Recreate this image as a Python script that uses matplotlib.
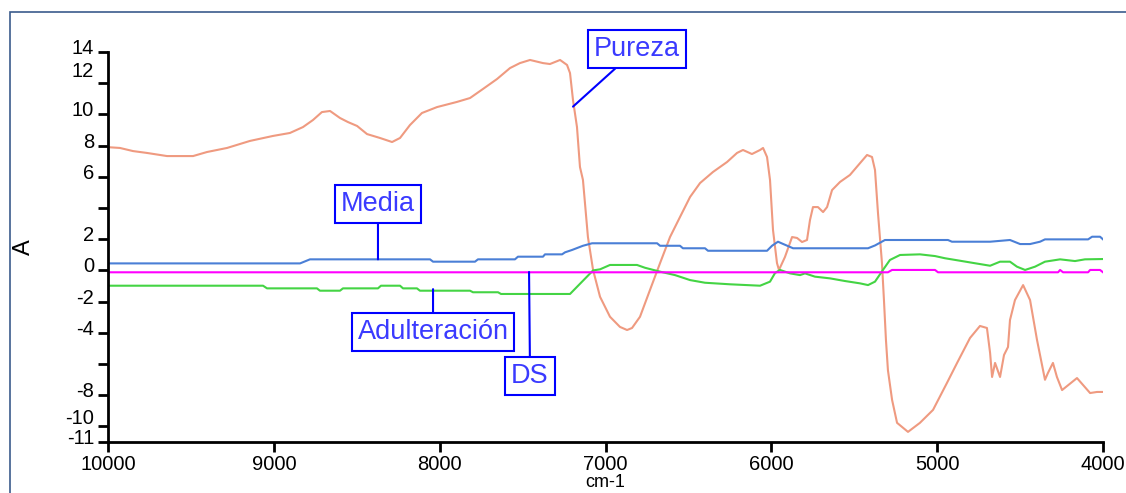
import matplotlib
matplotlib.use("Agg")
import matplotlib.pyplot as plt
import matplotlib.transforms as mtransforms
from matplotlib.patches import Rectangle

plt.rcParams['font.family'] = ['Liberation Sans', 'DejaVu Sans']

# Pureza spectrum (wavenumber cm-1, absorbance)
pureza_wn = [10000, 9928, 9849, 9765, 9644, 9487, 9403, 9282, 9144, 9005,
             8903, 8824, 8764, 8710, 8661, 8601, 8553, 8498, 8438, 8360,
             8287, 8239, 8179, 8107, 8016, 7896, 7817, 7739, 7654, 7576,
             7516, 7455, 7377, 7335, 7274, 7232, 7214, 7196, 7172, 7154,
             7136, 7106, 7075, 7033, 6973, 6913, 6870, 6840, 6792, 6732,
             6671, 6611, 6551, 6490, 6430, 6352, 6267, 6207, 6171, 6117,
             6068, 6050, 6026, 6008, 5990, 5966, 5954, 5918, 5875, 5845,
             5815, 5785, 5767, 5749, 5719, 5688, 5664, 5634, 5586, 5526,
             5465, 5423, 5393, 5375, 5357, 5333, 5321, 5309, 5297, 5272,
             5242, 5176, 5104, 5025, 4941, 4880, 4802, 4742, 4700, 4681,
             4669, 4651, 4621, 4597, 4573, 4561, 4531, 4482, 4440, 4398,
             4350, 4332, 4302, 4278, 4247, 4157, 4078, 4036, 4000]
pureza_a = [7.9, 7.85, 7.65, 7.53, 7.33, 7.33, 7.59, 7.85, 8.3, 8.62,
            8.81, 9.19, 9.64, 10.15, 10.22, 9.77, 9.51, 9.26, 8.74, 8.49,
            8.23, 8.49, 9.32, 10.09, 10.47, 10.8, 11.05, 11.63, 12.27, 12.97,
            13.29, 13.49, 13.29, 13.23, 13.49, 13.17, 12.65, 10.92, 9.19, 6.63,
            5.8, 2.14, 0.03, -1.69, -2.97, -3.62, -3.82, -3.69, -2.97, -1.26,
            0.47, 2.14, 3.42, 4.71, 5.6, 6.31, 6.95, 7.53, 7.72, 7.46,
            7.72, 7.85, 7.27, 5.79, 2.59, 0.47, 0.03, 0.86, 2.14, 2.08,
            1.82, 1.95, 3.23, 4.06, 4.06, 3.74, 4.06, 5.15, 5.67, 6.12,
            6.88, 7.4, 7.27, 6.44, 3.68, 0.47, -1.9, -4.45, -6.4, -8.3,
            -9.77, -10.35, -9.77, -8.94, -7.21, -5.93, -4.33, -3.56, -3.69, -5.29,
            -6.83, -5.93, -6.83, -5.42, -4.91, -3.18, -1.9, -0.94, -1.9, -4.46,
            -7.01, -6.57, -5.93, -6.83, -7.67, -6.9, -7.86, -7.79, -7.79]

# Media
media_wn = [10000, 8842, 8782, 8058, 8040, 7787, 7769, 7546, 7528, 7377,
            7365, 7262, 7244, 7202, 7136, 7081, 6689, 6671, 6551, 6533,
            6400, 6382, 6026, 5996, 5960, 5930, 5869, 5417, 5375, 5315,
            4935, 4911, 4681, 4561, 4500, 4440, 4380, 4350, 4090, 4066,
            4018, 4000]
media_a = [0.45, 0.45, 0.71, 0.71, 0.56, 0.56, 0.71, 0.71, 0.88, 0.88,
           1.03, 1.03, 1.16, 1.31, 1.58, 1.74, 1.74, 1.58, 1.58, 1.42,
           1.42, 1.26, 1.26, 1.58, 1.84, 1.7, 1.42, 1.42, 1.6, 1.95,
           1.95, 1.84, 1.84, 1.95, 1.69, 1.69, 1.84, 1.99, 1.99, 2.16,
           2.16, 1.99]

# Adulteración
adult_wn = [10000, 9065, 9041, 8740, 8722, 8601, 8583, 8372, 8354, 8239,
            8221, 8137, 8119, 7817, 7799, 7648, 7630, 7214, 7075, 7033,
            6973, 6810, 6762, 6671, 6581, 6490, 6400, 6249, 6068, 6008,
            5978, 5948, 5887, 5827, 5797, 5737, 5646, 5556, 5465, 5417,
            5375, 5327, 5285, 5224, 5104, 5013, 4953, 4862, 4772, 4681,
            4621, 4561, 4519, 4470, 4410, 4350, 4259, 4169, 4109, 4000]
adult_a = [-0.98, -0.98, -1.15, -1.15, -1.3, -1.3, -1.15, -1.15, -0.98, -0.98,
           -1.15, -1.15, -1.3, -1.3, -1.4, -1.4, -1.51, -1.51, 0.0, 0.07,
           0.35, 0.35, 0.17, -0.08, -0.3, -0.62, -0.79, -0.89, -0.98, -0.72,
           -0.17, 0.03, -0.19, -0.3, -0.19, -0.4, -0.51, -0.68, -0.83, -0.94,
           -0.72, 0.03, 0.67, 0.99, 1.03, 0.92, 0.78, 0.62, 0.46, 0.3,
           0.56, 0.56, 0.24, 0.03, 0.24, 0.56, 0.71, 0.6, 0.71, 0.73]

# DS
ds_wn = [10000, 5297, 5272, 5013, 4995, 4271, 4259, 4241, 4090, 4078, 4018, 4000]
ds_a = [-0.12, -0.12, 0.03, 0.03, -0.12, -0.12, 0.03, -0.12, -0.12, 0.03, 0.03, -0.12]

y_ticks = [14, 12, 10, 8, 6, 4, 2, 0, -2, -4, -6, -8, -10, -11]
y_labels = ['14', '12', '10', '8', '6', '', '2', '0', '-2', '-4', '', '-8', '-10', '-11']
x_ticks = [10000, 9000, 8000, 7000, 6000, 5000, 4000]

# label text, anchor point on curve, box centre
notes = [
    ('Pureza', (7196, 10.5), (6810, 14.2)),
    ('Media', (8372, 0.71), (8372, 4.26)),
    ('Adulteración', (8040, -1.2), (8040, -3.95)),
    ('DS', (7461, -0.1), (7455, -6.76)),
]


def main():
    fig = plt.figure(figsize=(11.26, 4.93), dpi=100)
    ax = fig.add_axes([0.0959, 0.1034, 0.8837, 0.7911])

    fig.patches.append(Rectangle((10 / 1126, -0.1), 1.2, 1 - 12 / 493 + 0.1,
                                 transform=fig.transFigure, fill=False,
                                 edgecolor='#3b5b8c', lw=1.2))

    ax.plot(pureza_wn, pureza_a, color='#ef9a80', lw=1.5)
    ax.plot(media_wn, media_a, color='#4a7fd6', lw=1.5)
    ax.plot(adult_wn, adult_a, color='#44d444', lw=1.5)
    ax.plot(ds_wn, ds_a, color='#ff00ff', lw=1.5)

    ax.set_xlim(10000, 4000)
    ax.set_ylim(-11, 14)
    ax.spines['top'].set_visible(False)
    ax.spines['right'].set_visible(False)
    ax.spines['left'].set_linewidth(2)
    ax.spines['bottom'].set_linewidth(2)

    ax.set_xticks(x_ticks)
    ax.set_xticklabels([str(t) for t in x_ticks])
    ax.set_yticks(y_ticks)
    ax.set_yticklabels(y_labels)
    ax.tick_params(axis='both', direction='out', length=7, width=2,
                   labelsize=14.5, pad=3)
    ax.tick_params(axis='x', pad=2)

    offset = mtransforms.ScaledTranslation(0, 4 / 72, fig.dpi_scale_trans)
    extras = {12: 6, -10: 3}
    for lbl, t in zip(ax.get_yticklabels(), y_ticks):
        extra = extras.get(t, 0) / 72
        lbl.set_transform(lbl.get_transform() + offset +
                          mtransforms.ScaledTranslation(0, extra, fig.dpi_scale_trans))

    ax.set_ylabel('A', fontsize=17, labelpad=22)
    ax.set_xlabel('cm-1', fontsize=13, labelpad=0)

    for text, xy, xytext in notes:
        ax.annotate(text, xy=xy, xytext=xytext, textcoords='data',
                    ha='center', va='center', fontsize=19.5, color='#3a3aff',
                    annotation_clip=False,
                    bbox=dict(boxstyle='square,pad=0.22', fc='white',
                              ec='#0000ff', lw=1.5),
                    arrowprops=dict(arrowstyle='-', color='#0000ff', lw=1.5,
                                    shrinkA=0, shrinkB=0))

    fig.savefig('out.png', dpi=100)
    plt.close(fig)


if __name__ == '__main__':
    main()
